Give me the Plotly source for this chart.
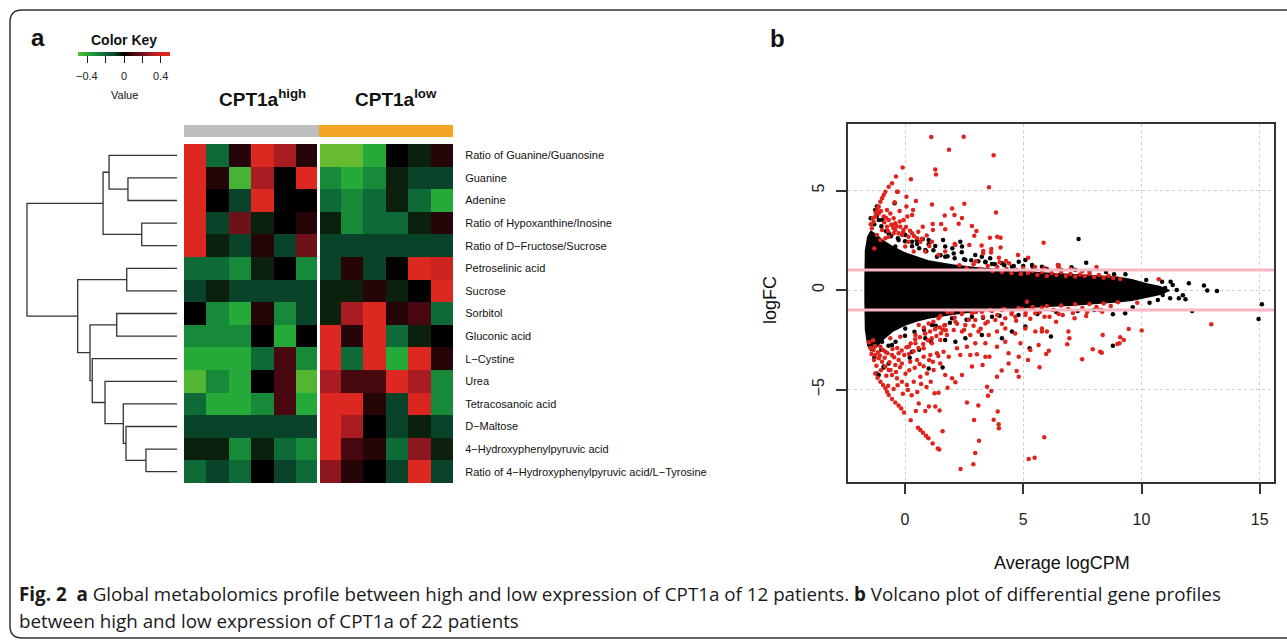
import plotly.graph_objects as go

W, H = 1287, 640

# ---------------- Panel a : heatmap data ----------------
metabolites = [
    "Ratio of Guanine/Guanosine", "Guanine", "Adenine",
    "Ratio of Hypoxanthine/Inosine", "Ratio of D\u2212Fructose/Sucrose",
    "Petroselinic acid", "Sucrose", "Sorbitol", "Gluconic acid",
    "L\u2212Cystine", "Urea", "Tetracosanoic acid", "D\u2212Maltose",
    "4\u2212Hydroxyphenylpyruvic acid",
    "Ratio of 4\u2212Hydroxyphenylpyruvic acid/L\u2212Tyrosine",
]
groups = ["high"] * 6 + ["low"] * 6
values = [
    [0.45, -0.2, 0.05, 0.45, 0.3, 0.05, -0.5, -0.5, -0.4, 0.0, -0.05, 0.05],
    [0.45, 0.05, -0.45, 0.3, 0.0, 0.45, -0.3, -0.4, -0.3, -0.05, -0.1, -0.1],
    [0.45, 0.0, -0.1, 0.45, 0.0, 0.0, -0.2, -0.3, -0.2, -0.05, -0.2, -0.4],
    [0.45, -0.1, 0.2, -0.05, 0.0, 0.05, -0.05, -0.3, -0.2, -0.2, -0.05, 0.05],
    [0.45, -0.05, -0.1, 0.05, -0.1, 0.2, -0.1, -0.1, -0.1, -0.1, -0.1, -0.1],
    [-0.2, -0.2, -0.3, -0.05, 0.0, -0.3, -0.1, 0.05, -0.1, 0.0, 0.45, 0.38],
    [-0.1, -0.05, -0.1, -0.1, -0.1, -0.1, -0.05, -0.05, 0.05, -0.05, 0.0, 0.45],
    [0.0, -0.3, -0.4, 0.05, -0.3, -0.1, -0.05, 0.3, 0.45, 0.05, 0.1, -0.2],
    [-0.3, -0.3, -0.3, 0.0, -0.4, 0.0, 0.45, 0.05, 0.45, -0.2, -0.05, 0.0],
    [-0.4, -0.4, -0.4, -0.2, 0.1, -0.3, 0.45, -0.2, 0.45, -0.4, 0.45, 0.05],
    [-0.47, -0.3, -0.4, 0.0, 0.1, -0.47, 0.3, 0.1, 0.1, 0.45, 0.3, -0.3],
    [-0.2, -0.4, -0.4, -0.3, 0.1, -0.4, 0.45, 0.45, 0.05, -0.1, 0.4, -0.3],
    [-0.1, -0.1, -0.1, -0.1, -0.1, -0.1, 0.45, 0.3, 0.0, -0.1, -0.05, -0.1],
    [-0.05, -0.05, -0.3, -0.05, -0.2, -0.3, 0.45, 0.1, 0.05, -0.2, 0.25, -0.05],
    [-0.2, -0.1, -0.2, 0.0, -0.1, -0.2, 0.25, 0.05, 0.0, -0.1, 0.45, -0.1],
]
key_ticks = [-0.4, -0.2, 0, 0.2, 0.4]
key_labels = ["\u22120.4", "", "0", "", "0.4"]

# dendrogram merges: (left child, right child, height); leaves are ints, nodes "n<i>"
merges = [
    (1, 2, 0.327),          # n0
    (0, "n0", 0.453),       # n1
    (3, 4, 0.235),          # n2
    ("n1", "n2", 0.493),    # n3
    (5, 6, 0.335),          # n4
    (7, 8, 0.402),          # n5
    (13, 14, 0.207),        # n6
    (12, "n6", 0.340),      # n7
    (11, "n7", 0.358),      # n8
    (10, "n8", 0.480),      # n9
    (9, "n9", 0.565),       # n10
    ("n5", "n10", 0.580),   # n11
    ("n4", "n11", 0.662),   # n12
    ("n3", "n12", 1.000),   # n13 root
]

# ---------------- Panel b : smear / volcano data ----------------
cloud_x = [-1.72, -1.70, -1.60, -1.45, -1.20, -0.90, -0.50, 0.0, 0.5, 1.0, 2.0, 3.0,
           4.0, 5.0, 6.0, 7.0, 8.0, 9.0, 9.6, 10.2, 10.8, 11.2]
cloud_upper = [0.5, 2.0, 2.7, 3.0, 2.8, 2.5, 2.2, 1.9, 1.7, 1.5, 1.3, 1.15,
               1.05, 0.95, 0.88, 0.82, 0.76, 0.68, 0.55, 0.35, 0.2, 0.0]
cloud_lower = [-0.5, -2.0, -2.8, -3.1, -2.9, -2.5, -2.1, -1.8, -1.6, -1.45, -1.25, -1.1,
               -1.0, -0.92, -0.86, -0.8, -0.72, -0.63, -0.55, -0.4, -0.25, -0.05]

black_x = [-1.3, -1.0, -0.8, -0.6, -0.3, 0.0, 0.3, 0.6, 0.9, 1.2, 1.5, 1.8, 2.1, 2.5, 2.8,
           3.1, 3.4, 3.8, 4.2, 4.6, 5.0, 5.4, 6.0, 6.6, 7.2, 7.8, 8.5, -0.44, 0.5, 1.0,
           -1.45, -1.2, 2.0, 2.4, 3.6,
           -1.3, -1.0, -0.7, -0.4, 0.0, 0.4, 0.8, 1.3, 1.9, 2.6, 3.3, 4.0, 4.8, 5.6, 6.4,
           7.3, 8.0, -0.9, 0.2, 0.6, 1.1, -1.2, 5.27, 1.59, 1.0,
           7.34, 7.66, 7.04, 8.84, 9.32, 10.2, 10.87, 11.23, 11.32, 12.0, 12.64, 12.78,
           13.19, 11.49, 11.75, 11.86, 11.58, 11.21, 10.9, 10.69, 10.34, 9.63, 9.31, 8.79,
           15.09, 14.95, 12.14, 8.79, 6.17, 9.9, 10.5, 11.0,
           1.0, 1.28, 1.61, 0.75, 0.51, 2.34, 1.70, 2.41, 2.97, 3.25, 2.06, 1.35, 4.81, 5.09,
           4.52, 5.37, 5.79, 4.10, 3.68, -1.11, -1.26, -1.19, -0.97, -0.69, -0.27, 0.30, 0.01,
           -0.41, 0.86, 1.70, 2.55, 3.40,
           -0.90, -1.11, -0.69, 0.86, 1.70, 2.13, 2.55, 3.25, 4.10, 4.52, 5.09, 0.30, -0.55,
           -0.97, -1.19, 0.01, 1.14, 1.99, 2.83, 3.68]
black_y = [3.3, 3.2, 2.95, 2.7, 2.6, 2.45, 2.2, 2.1, 1.95, 2.0, 1.75, 1.7, 1.6, 1.55, 1.5,
           1.45, 1.4, 1.3, 1.25, 1.2, 1.2, 1.15, 1.05, 1.0, 1.0, 0.95, 0.9, 4.36, 2.5, 2.3,
           3.6, 3.7, 2.1, 1.9, 1.6,
           -3.4, -3.0, -2.8, -2.6, -2.3, -2.1, -2.0, -1.8, -1.65, -1.5, -1.4, -1.3, -1.25, -1.2, -1.1,
           -1.05, -1.0, -3.9, -3.4, -3.0, -2.6, -4.2, -2.93, -3.90, -3.94,
           2.56, 1.37, 1.14, 0.79, 0.79, 0.50, 0.42, 0.42, 0.25, 0.34, 0.22, -0.03,
           -0.05, 0.0, -0.27, -0.47, -0.42, -0.42, -0.25, -0.50, -0.64, -0.87, -1.17, -1.22,
           -0.72, -1.46, -1.05, -2.80, -2.34, 0.3, -0.2, 0.1,
           2.51, 2.21, 2.51, 2.56, 2.31, 2.43, 2.18, 2.18, 1.76, 1.67, 1.84, 1.67, 1.42, 1.51,
           1.17, 1.26, 1.17, 1.34, 1.31, 3.52, 4.02, 4.19, 3.52, 2.85, 2.51, 2.43, 2.76,
           2.18, 2.01, 1.67, 1.51, 1.42,
           -3.85, -4.27, -3.69, -2.43, -2.51, -2.60, -2.43, -2.26, -2.43, -2.09, -1.84, -3.10, -2.76,
           -2.60, -2.26, -1.93, -1.76, -1.42, -1.34, -1.34]

red_x = [1.11, 2.48, 1.86, 3.75, -0.10, 1.28, 1.31, -0.38, 0.25, 3.55, -0.55, -0.69, -0.34, -0.30,
         0.06, 0.46, 1.14, 2.51, -0.44, 0.06, 0.34, -0.23, 1.99, 3.85, 1.68, 2.09, 0.10, 2.41,
         0.30, 1.17, 1.53, 0.75, 2.27, 2.83, 3.02, 1.18, 2.93, 3.59, 3.90, 4.04, 1.70, 2.10,
         2.72, 3.24, 4.04, 3.65, 3.31, 3.30, 3.64, 4.78, 3.97, 4.27, 5.21, 5.86, 0.86, 0.37,
         0.01, 0.15,
         -0.90, -1.04, -1.11, -1.19, -1.26, -1.33, -1.40, -0.97, -0.83, -0.76, -0.62, -0.48,
         -0.20, -0.06, -0.27, -0.48, -0.69, -0.83, -1.04, -1.19, -0.97, -0.76, -0.55, -0.41,
         -0.13, 0.30, 0.51, 0.65, 0.15, -1.30, -1.11, -0.90, -0.69, -0.41, -0.06, 1.14, 1.42,
         1.70, 2.13,
         -1.45, -1.36, -1.24, -1.17, -1.02, -0.88, -0.81, -0.72, -0.58, -0.49, -0.36, -0.22,
         -0.08, 0.04, 0.21, 0.38, 0.56, 0.71, 0.92, 1.03,
         2.3, 2.6, 2.9, 3.2, 3.5, 3.7, 3.9, 4.1, 4.3, 4.5, 4.7, 4.9, 5.0, 5.2, 5.4, 5.6, 5.8,
         6.0, 6.2, 6.4, 6.6, 6.8, 7.0, 7.2, 7.4, 7.6, 7.8, 8.0, 8.2, 8.4, 8.6, 8.8, 9.1, 6.5,
         7.0, 8.1, 4.4, 5.9, 3.0, 4.0, 5.5, 7.5,
         1.5, 1.8, 2.1, 2.4, 2.7, 3.0, 3.3, 3.6, 3.9, 4.2, 4.5, 4.8, 5.1, 5.4, 5.7, 6.0, 6.3,
         6.6, 6.9, 7.2, 7.5, 7.8, 8.1, 8.4, 8.7, 9.0, 2.2, 2.9, 3.5, 4.1, 4.7, 5.3, 5.9, 6.5,
         7.1, 7.7, 8.3, 1.2, 0.8, 1.6, 2.5, 3.2,
         2.35, 2.89, 2.97, 3.13, 5.23, 5.48, 5.89, 1.59, 1.39, 1.45, 1.17, 0.99, 0.89, 0.76,
         0.65, 0.55, 0.24, 0.46, 0.86, 1.46, 1.28, 1.01, 0.58, -0.04, -0.16, -0.27, -0.41,
         -0.55, -0.69, -0.76, -0.83, -0.93, -1.04, -1.16, -1.26, 2.62, 2.92, 3.10, 3.75, 3.92,
         3.96, 3.97, 3.47, 3.65, 3.51, 4.72, 4.81, 5.69, 5.20, 4.09, 3.89, 3.28, 2.83, 2.41,
         1.99, 1.70, 1.25, 1.42, 1.80, 2.13, 2.34, 2.76, 3.04, 3.40, 3.57, 4.38, 4.38, 4.81,
         5.30, 5.65, 4.88, 4.24, 3.89, 3.40, 2.97, 2.62, 2.20, 1.85, 1.49, 1.21, 0.93, 0.65,
         0.37, 0.08, -0.13, -0.34, -0.55, -0.69, -0.83, -0.97, -1.11, -1.26, -1.33, -1.40,
         -0.41, -0.13, 0.22, 0.51, 0.79, 1.07, 1.35, 1.63, -0.27, -0.55, -0.83, -1.04, -0.62,
         -0.20, 0.16, 0.44, 0.79, 1.14, 1.49, 1.77, 2.06, 2.41, 2.76, 3.11, 3.54, 3.89, 4.24,
         4.66, 5.09, 5.51, 5.79, 1.70, 2.13, 2.55, 2.97, 3.40, 3.82, 4.24, 4.66, 5.09, 5.51,
         1.28, 0.86, 0.44, 1.42, 1.00, 0.58, 1.99, 2.41, 2.83, 3.25, 3.68, 4.10, 4.52, 4.95,
         5.37, 5.79, 5.16,
         -1.35, -1.27, -1.14, -1.06, -0.93, -0.86, -0.74, -0.66, -0.53, -0.46, -0.33, -0.27,
         -0.14, -0.03, 0.06, 0.17, 0.24, 0.36, 0.43, 0.57, 0.63, 0.77, 0.84, 0.97, 1.06, 1.13,
         1.27, 1.33, 1.47, 1.52, 1.66, 1.73, -1.02, -0.79, -0.61, -0.38, -0.21, 0.02, 0.18,
         0.41, 0.62, 0.79, 1.02, 1.18, 1.41, -0.71, -0.48, -0.31, -0.09, 0.12, 0.28, 0.52,
         0.68, 0.91, 1.09, -1.21, -1.31, -1.42, -1.46, -1.52,
         6.46, 6.49, 10.73, 12.95, 9.46, 10.01, 8.36, 9.10, 9.25, 9.07, 8.98, 7.94, 8.25, 8.32,
         6.95, 6.86, 6.91, 6.08, 5.97, 5.79, 6.00, 7.49, 7.66, 8.22, 6.39, 7.17, 6.67, 6.11,
         6.25, 9.82, 8.34]
red_y = [7.69, 7.70, 7.05, 6.77, 6.15, 6.05, 5.80, 5.70, 5.56, 5.16, 5.36, 5.19, 4.94, 4.94,
         4.69, 4.47, 4.30, 4.34, 4.41, 4.19, 4.02, 3.97, 4.09, 3.90, 3.74, 3.77, 3.69, 3.62,
         3.77, 3.32, 3.32, 3.18, 3.33, 3.22, 2.97, 3.02, 2.73, 2.63, 2.68, 2.63, 3.05, 2.31,
         2.26, 2.23, 2.14, 2.06, 1.96, 1.84, 1.88, 1.76, 1.62, 1.46, 1.62, 2.38, 1.94, 1.93,
         2.18, 2.43,
         4.77, 4.44, 4.19, 3.94, 3.68, 3.43, 3.10, 4.61, 4.94, 4.02, 3.85, 3.60,
         3.18, 3.02, 2.85, 2.85, 2.68, 2.60, 2.51, 2.76, 3.02, 3.18, 3.27, 3.35,
         2.76, 2.85, 2.60, 2.43, 2.68, 2.09, 3.85, 3.69, 3.52, 3.02, 3.52, 2.43, 1.76,
         1.93, 2.26,
         3.31, 3.62, 3.88, 4.12, 3.97, 3.41, 3.63, 2.97, 3.28, 3.12, 3.21, 3.44,
         2.91, 3.17, 2.98, 2.71, 2.93, 2.58, 2.74, 2.21,
         1.25, 1.1, 1.3, 1.05, 1.2, 0.95, 1.15, 0.9, 1.05, 0.85, 1.0, 0.8, 1.1, 0.85, 0.95, 0.75, 0.9,
         0.7, 0.85, 0.75, 0.9, 0.7, 0.8, 0.68, 0.78, 0.7, 0.82, 0.65, 0.75, 0.62, 0.72, 0.6, 0.55, 1.25,
         1.05, 1.15, 1.35, 1.1, 1.45, 1.4, 1.15, 0.95,
         -1.3, -1.1, -1.4, -1.2, -1.5, -1.1, -1.35, -1.0, -1.25, -0.95, -1.2, -0.9, -1.15, -0.85, -1.1, -0.8, -1.0,
         -0.78, -0.95, -0.72, -0.9, -0.7, -0.85, -0.68, -0.8, -0.62, -1.7, -1.8, -1.6, -1.7, -1.55, -1.45, -1.35, -1.2,
         -1.15, -1.1, -1.0, -1.6, -1.9, -2.0, -2.0, -1.95,
         -9.00, -8.76, -8.19, -7.57, -8.49, -8.43, -7.40, -7.10, -7.96, -8.01, -7.71, -7.45, -7.32, -7.17,
         -7.04, -6.92, -6.55, -6.08, -6.08, -6.05, -5.86, -5.86, -5.70, -6.16, -5.95, -5.81, -5.65,
         -5.48, -5.28, -5.11, -4.94, -4.77, -4.61, -4.41, -4.19, -5.65, -6.53, -5.81, -6.52, -6.11,
         -6.75, -6.95, -4.86, -5.08, -5.31, -4.07, -4.36, -3.88, -3.52, -4.05, -4.36, -3.77, -3.85, -4.27,
         -4.44, -4.27, -5.19, -5.16, -4.91, -4.64, -3.27, -3.27, -3.23, -3.35, -3.35, -3.69, -3.18, -3.35,
         -3.01, -2.76, -2.68, -2.60, -2.85, -2.68, -2.68, -2.85, -2.93, -3.35, -3.69, -4.02, -4.19, -4.36,
         -4.61, -4.77, -4.61, -4.44, -4.27, -4.02, -3.85, -3.60, -3.43, -3.27, -3.01, -2.93,
         -3.77, -3.69, -3.60, -3.52, -3.35, -3.27, -3.18, -3.10, -3.18, -3.27, -3.10, -2.85, -2.43,
         -2.35, -2.85, -2.68, -2.93, -2.68, -2.51, -2.26, -2.01, -2.09, -2.26, -2.09, -2.26, -2.09, -1.93,
         -2.18, -1.93, -2.09, -1.93, -1.76, -1.59, -1.76, -1.51, -1.68, -1.51, -1.42, -1.34, -1.26, -1.17,
         -1.93, -2.18, -2.26, -1.42, -1.68, -1.76, -1.12, -1.06, -1.17, -1.09, -1.06, -1.00, -1.09, -0.95,
         -0.92, -0.89, -0.59,
         -2.52, -2.81, -3.13, -3.29, -3.02, -3.41, -3.18, -3.63, -2.97, -3.38, -2.91, -3.52,
         -3.04, -3.27, -2.88, -3.21, -2.69, -3.08, -2.47, -2.92, -2.38, -2.71, -2.19, -2.53, -2.08, -2.42,
         -1.97, -2.31, -1.88, -2.17, -1.79, -2.02, -4.03, -4.31, -4.02, -4.12, -3.88, -4.21, -4.03,
         -3.91, -3.72, -3.83, -3.52, -3.61, -3.32, -4.81, -4.98, -4.79, -5.21, -5.02, -5.29, -5.12,
         -4.72, -4.88, -4.61, -3.81, -3.52, -3.22, -2.91, -2.62,
         1.26, 1.14, 0.54, -1.72, -1.96, -2.04, -2.26, -2.38, -2.51, -2.68, -2.71, -2.98, -3.10, -3.15,
         -2.43, -2.73, -2.09, -3.05, -3.22, -2.09, -2.09, -3.48, -1.31, -1.01, -1.59, -1.42, -1.26, -1.34,
         -1.01, -0.64, -1.09]
fc_threshold = 1
x_ticks = [0, 5, 10, 15]
y_ticks = [-5, 0, 5]


# ---------------- helpers for layout ----------------
def fx(px):
    return px / W


def fy(py):
    return 1 - py / H


# dendrogram geometry computed from the merge list
node_pos = {}
node_h = {}
for i in range(len(metabolites)):
    node_pos[i] = i
    node_h[i] = 0.0
dx, dy = [], []
for k, (a, b, h) in enumerate(merges):
    ya, yb = node_pos[a], node_pos[b]
    dx += [node_h[a], h, h, node_h[b], None]
    dy += [ya, ya, yb, yb, None]
    node_pos["n%d" % k] = (ya + yb) / 2
    node_h["n%d" % k] = h

colorscale = [
    [0.0, "#66BB30"], [0.1, "#25AA3A"], [0.2, "#178A3A"], [0.3, "#0E6A36"],
    [0.4, "#08432A"], [0.45, "#0C200E"], [0.5, "#000000"], [0.55, "#250507"],
    [0.6, "#480810"], [0.7, "#6E1219"], [0.8, "#A91C22"], [0.9, "#D82520"],
    [1.0, "#E02A20"],
]
ZMIN, ZMAX = -0.5, 0.5
KEY_LEFT, KEY_PX = 78, 92   # colour key bar position (pixels)

fig = go.Figure()

fig.add_trace(go.Heatmap(
    z=values, x=list(range(len(groups))), y=list(range(len(metabolites))),
    colorscale=colorscale, zmin=ZMIN, zmax=ZMAX, xaxis="x", yaxis="y",
    hoverinfo="skip",
    colorbar=dict(
        orientation="h", x=fx(KEY_LEFT + KEY_PX / 2), xanchor="center", y=fy(52), yanchor="top",
        len=KEY_PX, lenmode="pixels", thickness=3.5, outlinewidth=0,
        tickvals=key_ticks, showticklabels=False, ticks="outside", ticklen=7,
        tickcolor="#222", tickwidth=1,
        xpad=0, ypad=0,
    ),
))

fig.add_trace(go.Heatmap(
    z=[[0 if g == "high" else 1 for g in groups]], x=list(range(len(groups))), y=[0],
    colorscale=[[0, "#BEBEBE"], [1, "#F4A523"]], zmin=0, zmax=1, showscale=False,
    xaxis="x2", yaxis="y2", hoverinfo="skip",
))

fig.add_trace(go.Scatter(
    x=dx, y=dy, mode="lines", line=dict(color="#333333", width=1.3),
    xaxis="x3", yaxis="y3", hoverinfo="skip", showlegend=False,
))

# panel b
fig.add_trace(go.Scatter(
    x=cloud_x + cloud_x[::-1], y=cloud_upper + cloud_lower[::-1],
    mode="lines", fill="toself", fillcolor="black", line=dict(width=0, color="black"),
    xaxis="x4", yaxis="y4", hoverinfo="skip", showlegend=False,
))
fig.add_trace(go.Scatter(
    x=black_x, y=black_y, mode="markers", marker=dict(color="black", size=4.5),
    xaxis="x4", yaxis="y4", hoverinfo="skip", showlegend=False,
))
fig.add_trace(go.Scatter(
    x=red_x, y=red_y, mode="markers", marker=dict(color="#E0231C", size=4.5),
    xaxis="x4", yaxis="y4", hoverinfo="skip", showlegend=False,
))

tick_font = dict(family="Liberation Sans", size=16, color="#222")

fig.update_layout(
    width=W, height=H, margin=dict(l=0, r=0, t=0, b=0),
    paper_bgcolor="white", plot_bgcolor="white", showlegend=False,
    xaxis=dict(domain=[fx(184), fx(453)], range=[-0.5, 11.5], visible=False, anchor="y"),
    yaxis=dict(domain=[fy(483), fy(144)], range=[14.5, -0.5], side="right", anchor="x",
               tickvals=list(range(len(metabolites))), ticktext=metabolites,
               ticks="outside", ticklen=9, tickcolor="rgba(0,0,0,0)",
               showgrid=False, zeroline=False, showline=False,
               tickfont=dict(family="Liberation Sans", size=11, color="#111")),
    xaxis2=dict(domain=[fx(184), fx(453)], range=[-0.5, 11.5], visible=False, anchor="y2"),
    yaxis2=dict(domain=[fy(137), fy(125)], range=[-0.5, 0.5], visible=False, anchor="x2"),
    xaxis3=dict(domain=[fx(20), fx(180)], range=[157 / 150, -3 / 150], visible=False, anchor="y3"),
    yaxis3=dict(domain=[fy(483), fy(144)], range=[14.5, -0.5], visible=False, anchor="x3"),
    xaxis4=dict(domain=[fx(848), fx(1274)], range=[-57 / 23.65, 369 / 23.65], anchor="y4",
                tickvals=x_ticks, ticks="outside", ticklen=10, tickwidth=1.5, tickcolor="#333",
                showline=True, mirror=True, linecolor="#333", linewidth=1.5,
                showgrid=True, gridcolor="#CFCFCF", griddash="dot", gridwidth=1,
                zeroline=False, tickfont=tick_font, ticklabelstandoff=12),
    yaxis4=dict(domain=[fy(482), fy(124)], range=[-192 / 19.9, 166 / 19.9], anchor="x4",
                tickvals=y_ticks, ticktext=["\u22125", "0", "5"], ticks="outside", ticklen=10,
                tickwidth=1.5, tickcolor="#333", tickangle=-90,
                showline=True, mirror=True, linecolor="#333", linewidth=1.5,
                showgrid=True, gridcolor="#CFCFCF", griddash="dot", gridwidth=1,
                zeroline=False, tickfont=tick_font, ticklabelstandoff=6),
)

# group separator in the heatmap
fig.add_shape(type="line", xref="x", yref="y domain", x0=5.5, x1=5.5, y0=0, y1=1,
              line=dict(color="white", width=3))
# fold-change threshold lines
for t in (fc_threshold, -fc_threshold):
    fig.add_shape(type="line", xref="x4 domain", yref="y4", x0=0, x1=1, y0=t, y1=t,
                  line=dict(color="#F7B7C3", width=3))

# rounded frame
r = 12
path = (f"M {fx(1300)},{fy(10)} L {fx(10 + r)},{fy(10)} Q {fx(10)},{fy(10)} {fx(10)},{fy(10 + r)} "
        f"L {fx(10)},{fy(638 - r)} Q {fx(10)},{fy(638)} {fx(10 + r)},{fy(638)} L {fx(1300)},{fy(638)}")
fig.add_shape(type="path", xref="paper", yref="paper", path=path,
              line=dict(color="#333", width=1.5))

ann = []


def add_text(text, px, py, size, bold=False, family="Liberation Sans", xanchor="center",
             angle=0, color="#111"):
    ann.append(dict(text=("<b>%s</b>" % text) if bold else text, x=fx(px), y=fy(py),
                    xref="paper", yref="paper", showarrow=False, xanchor=xanchor,
                    yanchor="middle", textangle=angle,
                    font=dict(family=family, size=size, color=color)))


# colour-key tick labels placed from the key's value scale
for v, lab in zip(key_ticks, key_labels):
    if lab:
        add_text(lab, KEY_LEFT + (v - ZMIN) / (ZMAX - ZMIN) * KEY_PX, 76, 11, color="#222")

add_text("a", 38, 37, 24, bold=True)
add_text("b", 777, 39, 24, bold=True)
add_text("Color Key", 124, 40, 14, bold=True)
add_text("Value", 124, 95, 11)
add_text("CPT1a<sup>high</sup>", 262, 98, 19, bold=True)
add_text("CPT1a<sup>low</sup>", 396, 98, 19, bold=True)
add_text("Average logCPM", 1062, 563, 18)
add_text("logFC", 770, 300, 18, angle=-90)
add_text("<b>Fig. 2</b>\u00a0 <b>a</b> Global metabolomics profile between high and low expression of "
         "CPT1a of 12 patients. <b>b</b> Volcano plot of differential gene profiles",
         17, 594, 18.8, family="Open Sans", xanchor="left", color="#1a1a1a")
add_text("between high and low expression of CPT1a of 22 patients",
         17, 621, 18.8, family="Open Sans", xanchor="left", color="#1a1a1a")
fig.update_layout(annotations=ann)

fig.write_html("out.html")
